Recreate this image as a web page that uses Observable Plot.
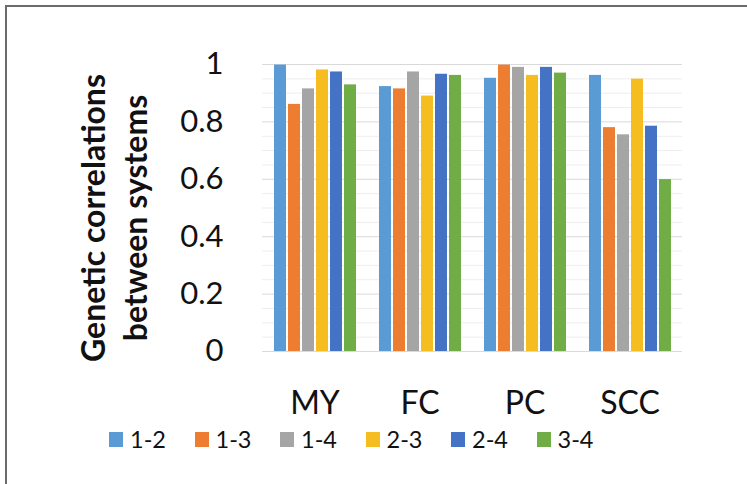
<!DOCTYPE html>
<html>
<head>
<meta charset="utf-8">
<script src="https://cdn.jsdelivr.net/npm/d3@7"></script>
<script src="https://cdn.jsdelivr.net/npm/@observablehq/plot@0.6"></script>
<style>
  html, body { margin: 0; padding: 0; background: #fff; }
  #wrap { position: relative; width: 747px; height: 484px; overflow: hidden; font-family: Lato, sans-serif; }
  #frame { position: absolute; left: 5px; top: 5px; width: 760px; height: 500px; border-left: 2px solid #6b6b6b; border-top: 2px solid #6b6b6b; }
  #chart { position: absolute; left: 0; top: 0; }
  #legend { position: absolute; left: 109px; top: 427px; display: flex; font-size: 23.5px; line-height: 24px; color: #111; }
  #legend .item { display: flex; align-items: center; width: 85.5px; }
  #legend .sw { width: 14px; height: 15px; margin-right: 7px; }
</style>
</head>
<body>
<div id="wrap">
  <div id="frame"></div>
  <div id="chart"></div>
  <div id="legend"></div>
</div>
<script>
const groups = ["MY", "FC", "PC", "SCC"];
const pairs = ["1-2", "1-3", "1-4", "2-3", "2-4", "3-4"];
const valuesMY  = [0.998, 0.861, 0.915, 0.981, 0.974, 0.929];
const valuesFC  = [0.923, 0.915, 0.974, 0.890, 0.966, 0.962];
const valuesPC  = [0.952, 0.998, 0.990, 0.962, 0.990, 0.970];
const valuesSCC = [0.962, 0.780, 0.755, 0.949, 0.785, 0.599];
const colors = ["#5B9BD5", "#ED7D31", "#A5A5A5", "#F5BD1F", "#4472C4", "#70AD47"];
const yTicks = [0, 0.2, 0.4, 0.6, 0.8, 1];
const yTickLabels = ["0", "0.2", "0.4", "0.6", "0.8", "1"];
const minorGrid = [0.05, 0.1, 0.15, 0.25, 0.3, 0.35, 0.45, 0.5, 0.55, 0.65, 0.7, 0.75, 0.85, 0.9, 0.95];
const yTitle = "Genetic correlations\nbetween systems";

const series = {MY: valuesMY, FC: valuesFC, PC: valuesPC, SCC: valuesSCC};
const data = groups.flatMap(g => pairs.map((p, i) => ({group: g, pair: p, value: series[g][i]})));

const chart = Plot.plot({
  width: 747,
  height: 420,
  marginLeft: 262,
  marginRight: 65,
  marginTop: 64,
  marginBottom: 69,
  style: {fontFamily: "Lato, sans-serif", background: "transparent", color: "#111"},
  fx: {domain: groups, paddingInner: 0, paddingOuter: 0, label: null},
  x: {domain: pairs, paddingInner: 0.17, paddingOuter: 0.8, axis: null},
  y: {domain: [0, 1], axis: null, label: null},
  color: {domain: pairs, range: colors},
  marks: [
    Plot.ruleY(minorGrid, {stroke: "#ededed", strokeWidth: 1}),
    Plot.ruleY(yTicks, {stroke: "#d9d9d9", strokeWidth: 1}),
    Plot.axisY({ticks: yTicks, tickFormat: (d, i) => yTickLabels[i], label: null,
      tickSize: 0, tickPadding: 39, fontSize: 31, anchor: "left"}),
    Plot.axisFx({tickSize: 0, tickPadding: 40, fontSize: 32, label: null, anchor: "bottom"}),
    Plot.barY(data, {fx: "group", x: "pair", y: "value", fill: "pair"}),
    Plot.text([yTitle], {facet: "super", frameAnchor: "left", rotate: -90, dx: -150, dy: 10,
      fontSize: 32, fontWeight: "bold", lineHeight: 1.3, textAnchor: "middle", fill: "#111"})
  ]
});
document.getElementById("chart").appendChild(chart);

const legend = document.getElementById("legend");
pairs.forEach((p, i) => {
  const item = document.createElement("div");
  item.className = "item";
  const sw = document.createElement("span");
  sw.className = "sw";
  sw.style.background = colors[i];
  const t = document.createElement("span");
  t.textContent = p;
  item.appendChild(sw);
  item.appendChild(t);
  legend.appendChild(item);
});
</script>
</body>
</html>
